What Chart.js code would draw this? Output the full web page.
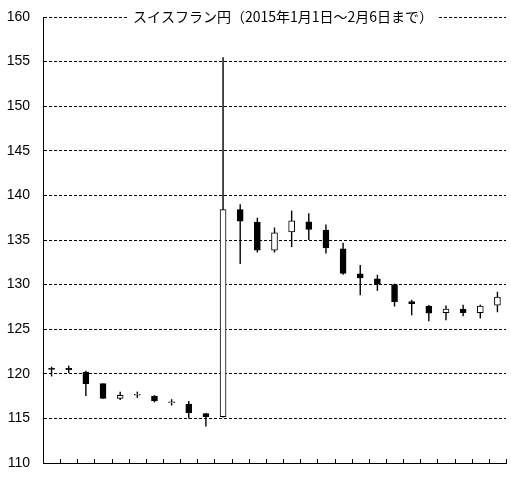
<!DOCTYPE html>
<html>
<head>
<meta charset="utf-8">
<script src="https://cdn.jsdelivr.net/npm/chart.js@4/dist/chart.umd.min.js"></script>
<style>
  html, body { margin: 0; padding: 0; background: #fff; }
  #wrap { width: 511px; height: 479px; position: relative; }
</style>
</head>
<body>
<div id="wrap"><canvas id="chart"></canvas></div>
<script>
const titleText = 'スイスフラン円（2015年1月1日～2月6日まで）';
const dates = ['1/1', '1/2', '1/5', '1/6', '1/7', '1/8', '1/9', '1/12', '1/13', '1/14', '1/15', '1/16', '1/19', '1/20',
    '1/21', '1/22', '1/23', '1/26', '1/27', '1/28', '1/29', '1/30', '2/2', '2/3', '2/4', '2/5', '2/6'];
const openVals = [120.6, 120.6, 120.2, 118.9, 117.25, 117.6, 117.5, 116.75, 116.6, 115.55, 115.2, 138.4, 137.0, 133.85,
    135.9, 137.05, 136.1, 134.0, 131.2, 130.65, 130.0, 128.1, 127.6, 126.85, 127.25, 126.85, 127.7];
const closeVals = [120.5, 120.45, 118.9, 117.25, 117.6, 117.6, 116.95, 116.75, 115.65, 115.2, 138.4, 137.1, 133.85, 135.8,
    137.15, 136.2, 134.1, 131.25, 130.75, 130.05, 128.1, 127.85, 126.8, 127.25, 126.85, 127.6, 128.6];
const highVals = [120.8, 120.9, 120.35, 118.9, 118.0, 118.0, 117.6, 117.15, 116.95, 115.6, 155.5, 139.0, 137.5, 136.4,
    138.3, 138.0, 136.75, 134.7, 132.2, 131.1, 130.1, 128.3, 127.7, 127.65, 127.75, 127.75, 129.2];
const lowVals = [119.7, 120.1, 117.5, 117.2, 117.05, 117.3, 116.8, 116.45, 115.0, 114.1, 115.1, 132.3, 133.6, 133.6,
    134.2, 135.0, 133.5, 131.1, 128.8, 129.3, 127.55, 126.55, 125.9, 126.0, 126.45, 126.2, 126.9];
const yTicks = { min: 110, max: 160, step: 5 };

const bodies = dates.map((d, i) => [openVals[i], closeVals[i]]);
const wicks = dates.map((d, i) => [lowVals[i], highVals[i]]);

// inward tick marks on the category axis + title sitting on the top gridline
const decor = {
    id: 'decor',
    afterDraw(chart) {
        const { ctx, chartArea, scales: { x } } = chart;
        const w = (chartArea.right - chartArea.left) / dates.length;
        ctx.save();
        ctx.strokeStyle = '#000';
        ctx.lineWidth = 1;
        ctx.beginPath();
        for (let i = 1; i <= dates.length; i++) {
            const px = Math.round(x.getPixelForValue(i - 1) + w / 2) + 0.5;
            ctx.moveTo(px, chartArea.bottom);
            ctx.lineTo(px, chartArea.bottom - 4);
        }
        ctx.stroke();

        ctx.font = '14px "Noto Sans CJK JP"';
        const tw = ctx.measureText(titleText).width;
        const cx = 283, cy = chartArea.top;
        ctx.fillStyle = '#fff';
        ctx.fillRect(cx - tw / 2 - 6, cy - 8, tw + 12, 16);
        ctx.fillStyle = '#000';
        ctx.textAlign = 'center';
        ctx.textBaseline = 'middle';
        ctx.fillText(titleText, cx, cy);
        ctx.restore();
    }
};

new Chart(document.getElementById('chart'), {
    type: 'bar',
    data: {
        labels: dates,
        datasets: [{
            label: 'body',
            data: bodies,
            grouped: false,
            barThickness: 6,
            minBarLength: 1,
            borderWidth: 1,
            borderSkipped: false,
            borderColor: '#000',
            backgroundColor: ctx => closeVals[ctx.dataIndex] >= openVals[ctx.dataIndex] ? '#fff' : '#000'
        }, {
            label: 'wick',
            data: wicks,
            grouped: false,
            barThickness: 1.4,
            borderWidth: 0,
            inflateAmount: 0,
            backgroundColor: '#000'
        }]
    },
    options: {
        responsive: true,
        maintainAspectRatio: false,
        animation: false,
        layout: { padding: { top: 17, right: 5, bottom: 16, left: 0 } },
        plugins: { legend: { display: false }, tooltip: { enabled: false } },
        scales: {
            x: {
                ticks: { display: false },
                grid: { drawOnChartArea: false, drawTicks: false },
                border: { display: true, color: '#000', width: 1 }
            },
            y: {
                min: yTicks.min,
                max: yTicks.max,
                afterFit: s => { s.width = 43; s.paddingTop = 0; s.paddingBottom = 0; },
                ticks: {
                    stepSize: yTicks.step,
                    padding: 13,
                    color: '#000',
                    font: { family: '"Liberation Sans", Arial', size: 14 }
                },
                grid: { color: '#000', lineWidth: 1, drawTicks: false },
                border: { display: true, color: '#000', width: 1, dash: [3, 2] }
            }
        }
    },
    plugins: [decor]
});
</script>
</body>
</html>
